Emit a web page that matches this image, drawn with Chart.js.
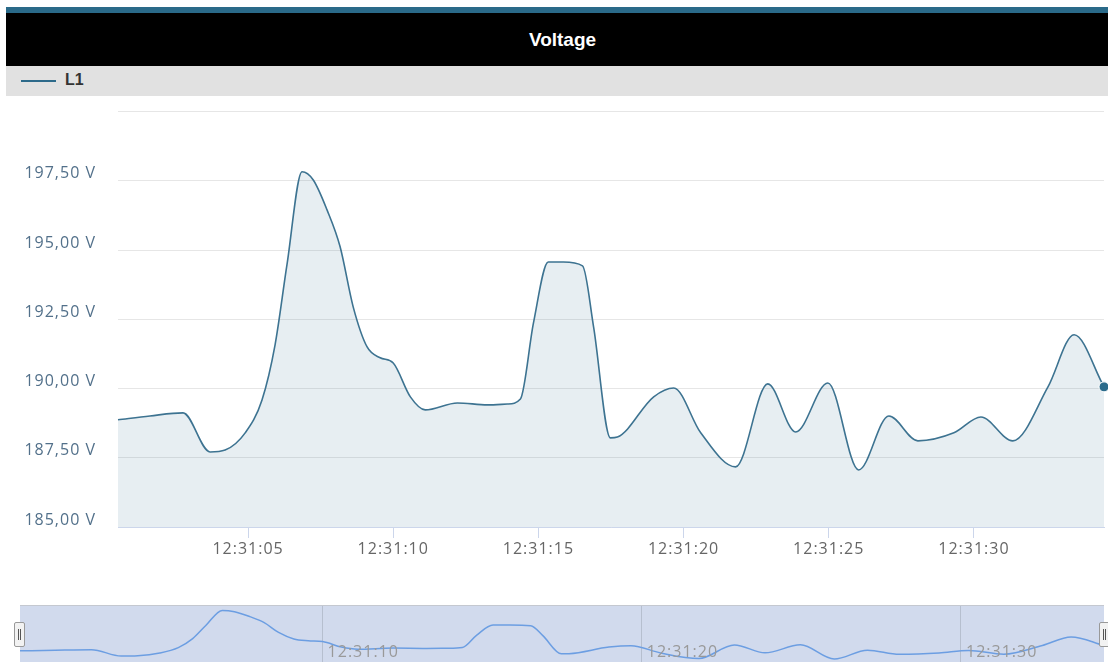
<!DOCTYPE html>
<html>
<head>
<meta charset="utf-8">
<script src="https://cdn.jsdelivr.net/npm/chart.js@4.4.1/dist/chart.umd.min.js"></script>
<style>
  body { margin: 0; width: 1108px; height: 662px; overflow: hidden; background: #fff; position: relative; font-family: "Liberation Sans", Arial, sans-serif; }
  #strip { position: absolute; left: 6px; top: 7px; width: 1113px; height: 6px; background: #2a6a89; }
  #title { position: absolute; left: 6px; top: 13px; width: 1113px; height: 53px; background: #000; color: #fff; font-weight: bold; font-size: 19px; line-height: 53px; text-align: center; }
  #legend { position: absolute; left: 6px; top: 66px; width: 1113px; height: 30px; background: #e1e1e1; }
  #legend .swatch { position: absolute; left: 15px; top: 14px; width: 35px; height: 2px; background: #2d6a8a; }
  #legend .name { position: absolute; left: 59px; top: 4px; font-weight: bold; font-size: 16px; color: #333; line-height: 20px; }
  #main { position: absolute; left: 0; top: 80px; }
  #navbox { position: absolute; left: 20px; top: 605px; width: 1084px; height: 57px; background: #d1daed; border-top: 1px solid #c4c8d0; box-sizing: border-box; }
  #nav { position: absolute; left: 0; top: 0; }
  .handle { position: absolute; top: 622px; width: 9px; height: 23px; background: #f2f2f2; border: 1px solid #999; border-radius: 2px; }
  .handle::before, .handle::after { content: ""; position: absolute; top: 6px; width: 1px; height: 11px; background: #555; }
  .handle::before { left: 3px; }
  .handle::after { left: 5px; }
</style>
</head>
<body>
<div id="strip"></div>
<div id="title">Voltage</div>
<div id="legend"><div class="swatch"></div><div class="name">L1</div></div>
<canvas id="main" width="1108" height="516"></canvas>
<div id="navbox"><canvas id="nav" width="1084" height="56"></canvas></div>
<div class="handle" style="left:14px"></div>
<div class="handle" style="left:1099px"></div>
<script>
// seconds after 12:31:00
const seconds = [0.52, 1.62, 2.76, 3.69, 4.21, 4.90, 5.48, 5.93, 6.34, 6.86, 7.24,
    7.72, 8.17, 8.62, 9.10, 9.55, 10.00, 10.59, 11.10, 12.21, 13.24,
    13.93, 14.38, 14.83, 15.34, 15.86, 16.52, 16.90, 17.48, 17.72, 18.97,
    19.66, 20.59, 21.79, 22.90, 23.86, 24.97, 26.03, 27.07, 28.07, 29.31,
    30.24, 31.34, 32.55, 33.45, 34.48];
const voltsL1 = [188.87, 189.01, 189.12, 187.71, 187.78, 188.40, 189.59, 191.58, 194.47, 197.83, 197.54,
    196.45, 195.12, 192.95, 191.50, 191.11, 190.92, 189.70, 189.23, 189.48, 189.41,
    189.44, 189.62, 192.37, 194.57, 194.57, 194.43, 192.23, 188.22, 188.25, 189.70,
    190.02, 188.40, 187.17, 190.17, 188.43, 190.20, 187.06, 189.01, 188.11, 188.40,
    188.97, 188.11, 190.06, 191.94, 190.06];
const xTicks = [5, 10, 15, 20, 25, 30];
const navTicks = [10, 20, 30];
const yMin = 185, yMax = 200, yStep = 2.5;

const points = seconds.map((s, i) => ({x: s, y: voltsL1[i]}));
const timeLabel = v => '12:31:' + String(v).padStart(2, '0');
const lastIdx = points.length - 1;

const spacing = {
    id: 'spacing',
    beforeDraw(chart) { chart.ctx.letterSpacing = '1px'; }
};

new Chart(document.getElementById('main'), {
    type: 'line',
    data: {
        datasets: [{
            label: 'L1',
            data: points,
            borderColor: '#3d7391',
            borderWidth: 1.6,
            backgroundColor: 'rgba(61,115,145,0.12)',
            fill: 'start',
            cubicInterpolationMode: 'monotone',
            pointRadius: ctx => ctx.dataIndex === lastIdx ? 5 : 0,
            pointBackgroundColor: '#2b6b8b',
            pointBorderColor: '#fff',
            pointBorderWidth: 1,
            clip: false
        }]
    },
    options: {
        responsive: false,
        animation: false,
        events: [],
        layout: {autoPadding: false, padding: {top: 15, right: 4, left: 0, bottom: 0}},
        plugins: {legend: {display: false}, tooltip: {enabled: false}},
        scales: {
            x: {
                type: 'linear',
                min: seconds[0],
                max: seconds[lastIdx],
                afterBuildTicks: s => { s.ticks = xTicks.map(v => ({value: v})); },
                afterFit: s => { s.height = 69; },
                border: {display: true, color: '#ccd6eb'},
                grid: {display: true, drawOnChartArea: false, drawTicks: true, tickLength: 11, color: '#ccd6eb'},
                ticks: {
                    autoSkip: false, maxRotation: 0, padding: 2,
                    color: '#666',
                    font: {family: 'Open Sans', size: 16},
                    callback: v => timeLabel(v)
                }
            },
            y: {
                min: yMin,
                max: yMax,
                afterFit: s => { s.width = 118; },
                border: {display: false},
                grid: {color: '#e6e6e6', drawTicks: false},
                ticks: {
                    stepSize: yStep,
                    padding: 22,
                    labelOffset: -7,
                    color: '#52708a',
                    font: {family: 'Open Sans', size: 16},
                    callback: v => v === yMax ? '' : v.toFixed(2).replace('.', ',') + ' V'
                }
            }
        }
    },
    plugins: [spacing]
});

const navLabels = {
    id: 'navLabels',
    afterDraw(chart) {
        const ctx = chart.ctx, xs = chart.scales.x;
        ctx.save();
        ctx.letterSpacing = '1px';
        ctx.font = '16px "Open Sans"';
        ctx.fillStyle = '#999';
        ctx.textBaseline = 'top';
        navTicks.forEach(v => ctx.fillText(timeLabel(v), xs.getPixelForValue(v) + 5, 38));
        ctx.restore();
    }
};

new Chart(document.getElementById('nav'), {
    type: 'line',
    data: {
        datasets: [{
            data: points,
            borderColor: '#6c9ee2',
            borderWidth: 1.5,
            fill: false,
            cubicInterpolationMode: 'monotone',
            pointRadius: 0
        }]
    },
    options: {
        responsive: false,
        animation: false,
        events: [],
        layout: {autoPadding: false, padding: 0},
        plugins: {legend: {display: false}, tooltip: {enabled: false}},
        scales: {
            x: {
                type: 'linear',
                min: seconds[0],
                max: seconds[lastIdx],
                afterBuildTicks: s => { s.ticks = navTicks.map(v => ({value: v})); },
                afterFit: s => { s.height = 0; },
                border: {display: false},
                grid: {color: '#b6bfcf', drawTicks: false},
                ticks: {display: false}
            },
            y: {display: false, min: 186.4, max: 198.8}
        }
    },
    plugins: [navLabels]
});
</script>
</body>
</html>
